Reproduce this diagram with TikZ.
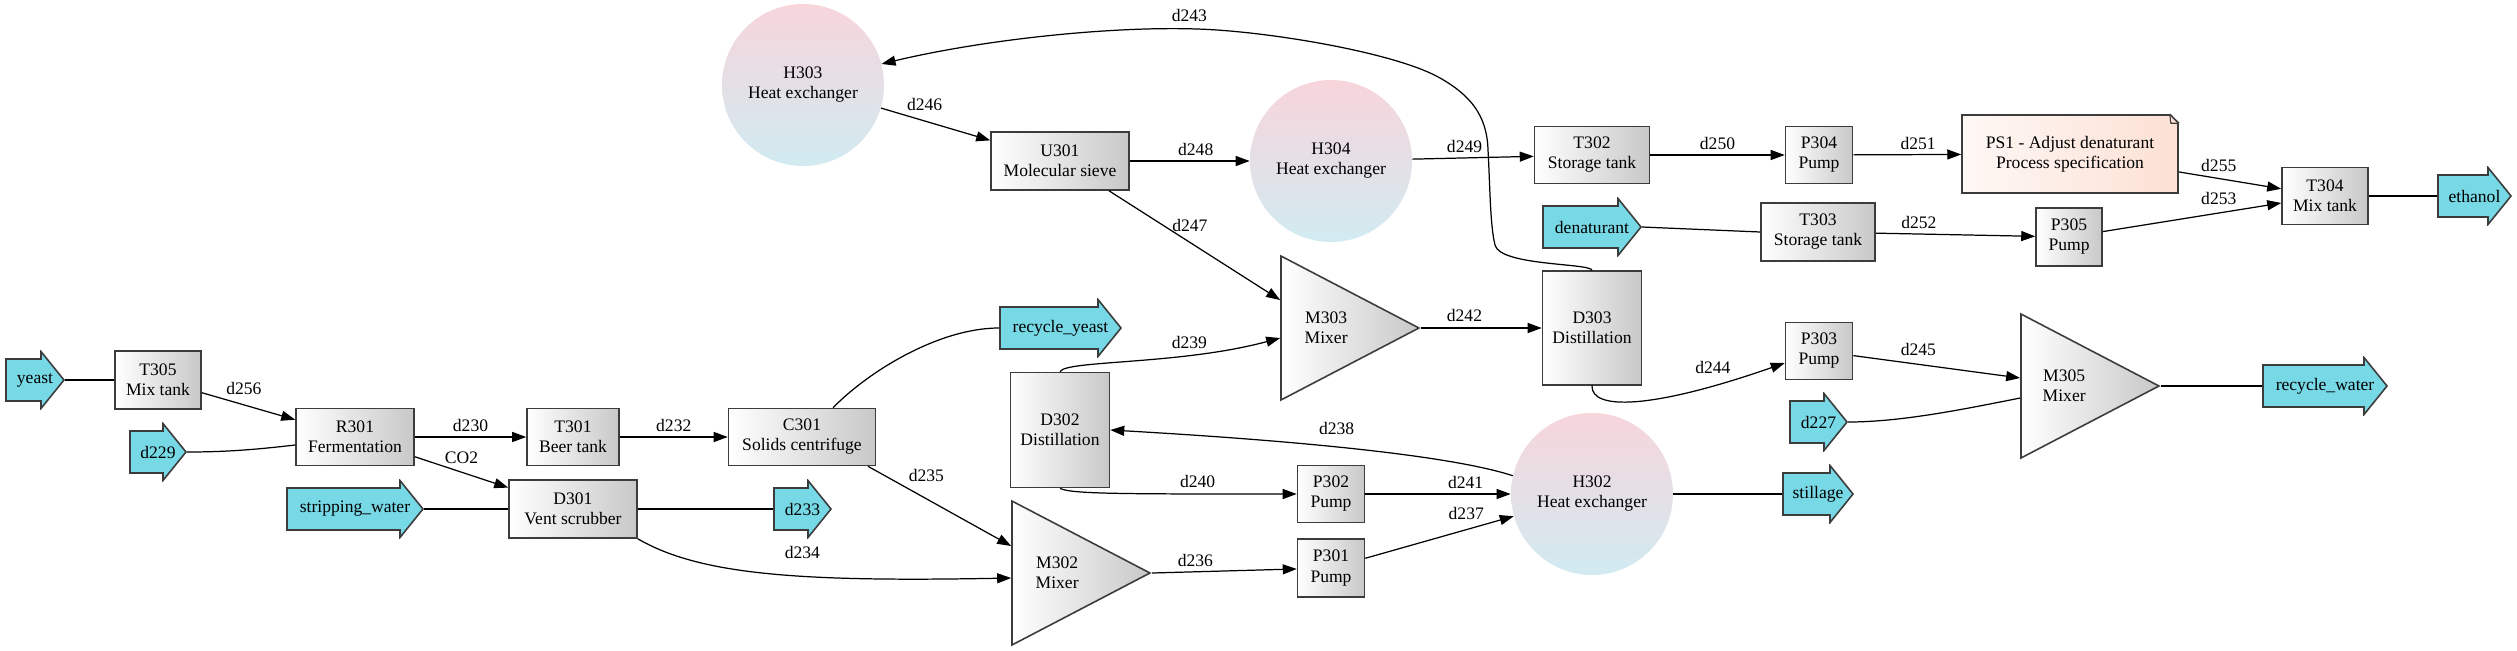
\documentclass[tikz,border=0pt]{standalone}
\usepackage{fontspec}
\setmainfont{Liberation Serif}
\usetikzlibrary{arrows.meta,shapes.geometric,calc}
\definecolor{feedcyan}{RGB}{120,217,230}
\definecolor{hxtop}{RGB}{247,213,219}
\definecolor{hxbot}{RGB}{209,235,241}
\definecolor{notel}{RGB}{254,248,245}
\definecolor{noter}{RGB}{252,224,212}
\definecolor{boxr}{RGB}{200,200,200}
\definecolor{edgegray}{RGB}{60,60,60}

\begin{document}
\begin{tikzpicture}[x=0.02cm, y=-0.02cm, font=\fontsize{10}{11.4}\selectfont,
	unit/.style={draw=edgegray, line width=0.9pt, left color=white, right color=boxr, align=center, inner sep=0pt, minimum height=1.14cm},
	hx/.style={circle, top color=hxtop, bottom color=hxbot, align=center, minimum size=3.24cm, inner sep=0pt},
	mixer/.style={isosceles triangle, isosceles triangle stretches, draw=edgegray, line width=0.9pt, left color=white, right color=boxr, minimum height=2.76cm, minimum width=2.88cm, inner sep=0pt, anchor=apex},
	stream/.style={minimum width=#1, minimum height=1.18cm, inner sep=0pt, outer sep=0pt, anchor=west,
		path picture={\filldraw[fill=feedcyan, draw=edgegray, line width=0.9pt]
			($(path picture bounding box.west)+(1,-21)$) -- ($(path picture bounding box.east)+(-24,-21)$)
			-- ($(path picture bounding box.east)+(-24,-28.5)$) -- ($(path picture bounding box.east)+(-1,0)$)
			-- ($(path picture bounding box.east)+(-24,28.5)$) -- ($(path picture bounding box.east)+(-24,21)$)
			-- ($(path picture bounding box.west)+(1,21)$) -- cycle;}},
	spec/.style={draw=edgegray, line width=0.9pt, left color=notel, right color=noter, align=center, minimum width=4.32cm, minimum height=1.56cm},
	flow/.style={line width=0.7pt, -{Triangle[length=0.28cm,width=0.2cm]}},
	line/.style={line width=0.7pt},
	lbl/.style={inner sep=2.5pt}]
		\useasboundingbox (0,0) rectangle (2517,650);
		
		\node[stream=1.2cm] (yeast) at (5,380) {yeast};
		\node[unit, minimum width=1.72cm, minimum height=1.16cm] (T305) at (158,380) {T305\\Mix tank};
		\node[unit, minimum width=2.36cm] (R301) at (355,437) {R301\\Fermentation};
		\node[stream=1.16cm] (d229) at (129,452) {d229};
		\node[unit, minimum width=1.84cm] (T301) at (573,437) {T301\\Beer tank};
		\node[unit, minimum width=2.94cm] (C301) at (802,437) {C301\\Solids centrifuge};
		\node[unit, minimum width=2.56cm, minimum height=1.16cm] (D301) at (573,509) {D301\\Vent scrubber};
		\node[stream=2.76cm] (strippingwater) at (286,509) {stripping\_water};
		\node[stream=1.18cm] (d233) at (773,509) {d233};
		\node[stream=2.46cm] (recycleyeast) at (999,328) {recycle\_yeast};
		
		\node[mixer, label={[align=center, anchor=center, xshift=0.92cm]west:M302\\Mixer}] (M302) at (1152,573) {};
		\node[unit, minimum width=1.98cm, minimum height=2.3cm] (D302) at (1060,430) {D302\\Distillation};
		\node[unit, minimum width=1.34cm] (P302) at (1331,494) {P302\\Pump};
		\node[unit, minimum width=1.34cm, minimum height=1.16cm] (P301) at (1331,568) {P301\\Pump};
		\node[hx] (H302) at (1592,494) {H302\\Heat exchanger};
		\node[stream=1.44cm] (stillage) at (1782,494) {stillage};
		
		\node[hx] (H303) at (803,85) {H303\\Heat exchanger};
		\node[unit, minimum width=2.76cm, minimum height=1.16cm] (U301) at (1060,161) {U301\\Molecular sieve};
		\node[hx] (H304) at (1331,161) {H304\\Heat exchanger};
		\node[mixer, label={[align=center, anchor=center, xshift=0.92cm]west:M303\\Mixer}] (M303) at (1421,328) {};
		\node[unit, minimum width=1.98cm, minimum height=2.28cm] (D303) at (1592,328) {D303\\Distillation};
		
		\node[unit, minimum width=2.3cm] (T302) at (1592,155) {T302\\Storage tank};
		\node[unit, minimum width=1.34cm] (P304) at (1819,155) {P304\\Pump};
		\node[spec] (PS1) at (2070,154) {PS1 - Adjust denaturant\\Process specification};
		\node[unit, minimum width=1.72cm] (T304) at (2325,196) {T304\\Mix tank};
		\node[stream=1.5cm] (ethanol) at (2437,196) {ethanol};
		\node[stream=2cm] (denaturant) at (1542,227) {denaturant};
		\node[unit, minimum width=2.28cm, minimum height=1.16cm] (T303) at (1818,232) {T303\\Storage tank};
		\node[unit, minimum width=1.32cm, minimum height=1.16cm] (P305) at (2069,237) {P305\\Pump};
		\node[unit, minimum width=1.34cm] (P303) at (1819,351) {P303\\Pump};
		\node[stream=1.18cm] (d227) at (1789,422) {d227};
		\node[mixer, label={[align=center, anchor=center, xshift=0.88cm]west:M305\\Mixer}] (M305) at (2161,386) {};
		\node[stream=2.52cm] (recyclewater) at (2262,386) {recycle\_water};
		
		\fill[white] ($(PS1.north east)+(-9,-1)$) -- ($(PS1.north east)+(1,-1)$) -- ($(PS1.north east)+(1,9)$) -- cycle;
		\draw[edgegray, line width=0.9pt] ($(PS1.north east)+(-9,0)$) -- ($(PS1.north east)+(0,9)$);
		\draw[edgegray, line width=0.6pt] ($(PS1.north east)+(-9,0)$) -- ($(PS1.north east)+(-8,9)$) -- ($(PS1.north east)+(0,9)$);
		
		\draw[line] (yeast.east) -- (T305.west);
		\draw[flow] (T305) -- node[lbl, pos=.45, above=3pt] {d256} (R301);
		\draw[line] (d229.east) .. controls (230,452) and (260,449) .. ([yshift=-0.16cm]R301.west);
		\draw[flow] (R301) -- node[lbl, above] {d230} (T301);
		\draw[flow] (R301) -- node[lbl, above=2pt] {CO2} (D301);
		\draw[flow] (T301) -- node[lbl, above] {d232} (C301);
		\draw[line] (strippingwater.east) -- (D301.west);
		\draw[line] (D301.east) -- (d233.west);
		\draw[flow] (D301.south east) .. controls (700,575) and (800,582) .. ([yshift=-0.1cm]M302.west) node[lbl, pos=.59, above=7pt] {d234};
		\draw[line] ([xshift=0.62cm]C301.north) .. controls (870,370) and (940,328) .. (recycleyeast.west);
		\draw[flow] ([xshift=1.32cm]C301.south) -- node[lbl, pos=.25, above right] {d235} ([yshift=0.54cm]M302.west);
		\draw[flow] (M302.apex) -- node[lbl, pos=.3, above] {d236} (P301);
		\draw[flow] (P301) -- node[lbl, pos=.68, above=3pt] {d237} (H302);
		\draw[flow] (D302.south) .. controls (1070,494) and (1120,494) .. (P302.west) node[lbl, pos=.78, above=1pt] {d240};
		\draw[flow] (P302) -- node[lbl, pos=.69, above] {d241} (H302);
		\draw[flow] (H302.167) .. controls (1440,452) and (1250,438) .. (D302.east) node[lbl, pos=.5, above=4pt] {d238};
		\draw[line] (H302.east) -- (stillage.west);
		\draw[flow] (D302.north) .. controls (1065,360) and (1180,365) .. ([yshift=-0.2cm]M303.west) node[lbl, pos=.7, above=1pt] {d239};
		\draw[flow] ([xshift=0.98cm]U301.south) -- node[lbl, pos=.32, right=2pt] {d247} ([yshift=0.56cm]M303.west);
		\draw[flow] (H303) -- node[lbl, pos=.4, above=3pt] {d246} (U301);
		\draw[flow] (U301) -- node[lbl, pos=.55, above] {d248} (H304);
		\draw[flow] (H304) -- node[lbl, pos=.43, above] {d249} (T302);
		\draw[flow] (T302) -- node[lbl, above] {d250} (P304);
		\draw[flow] (P304) -- node[lbl, pos=.6, above] {d251} (PS1);
		\draw[flow] (PS1) -- node[lbl, pos=.39, above=1pt] {d255} (T304);
		\draw[line] (denaturant.east) -- (T303.west);
		\draw[flow] (T303) -- node[lbl, pos=.27, above] {d252} (P305);
		\draw[flow] (P305) -- node[lbl, pos=.65, above=2pt] {d253} (T304);
		\draw[line] (T304.east) -- (ethanol.west);
		\draw[flow] (M303.apex) -- node[lbl, pos=.36, above=1pt] {d242} (D303.west);
		\draw[flow] (D303.north) .. controls (1590,263) and (1500,266) .. (1495,245)
			.. controls (1490,225) and (1490,185) .. (1488,150)
			.. controls (1487,115) and (1470,95) .. (1440,78)
			.. controls (1400,55) and (1290,35) .. (1217,30)
			.. controls (1130,24) and (990,38) .. (H303.15) node[lbl, pos=.1, above=1pt] {d243};
		\draw[flow] (D303.south) .. controls (1591,410) and (1650,410) .. ([yshift=-0.24cm]P303.west) node[lbl, pos=.8, above=4pt] {d244};
		\draw[flow] (P303) -- node[lbl, pos=.39, above=2pt] {d245} ([yshift=0.16cm]M305.west);
		\draw[line] (d227.east) .. controls (1900,422) and (1960,410) .. ([yshift=-0.24cm]M305.west);
		\draw[line] (M305.apex) -- (recyclewater.west);
		
\end{tikzpicture}
\end{document}
